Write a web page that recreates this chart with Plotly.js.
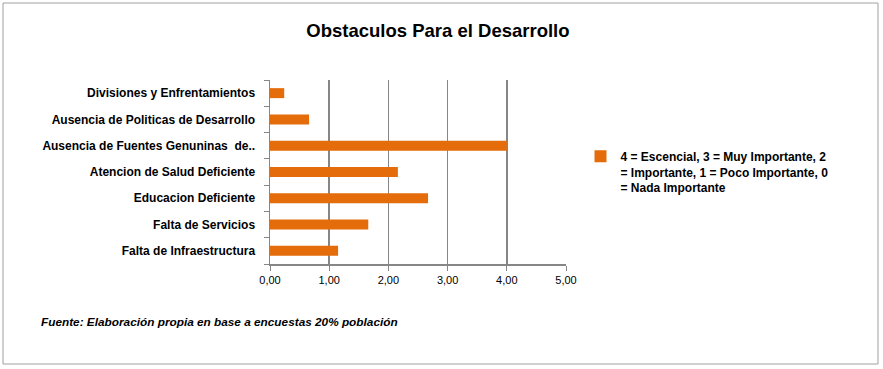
<!DOCTYPE html>
<html><head><meta charset="utf-8">
<script src="https://cdn.plot.ly/plotly-3.0.1.min.js"></script>
<style>body{margin:0;padding:0;background:#fff}#chart{width:883px;height:369px}</style>
</head><body><div id="chart"></div>
<script>
const categories = ["Falta de Infraestructura","Falta de Servicios","Educacion Deficiente","Atencion de Salud Deficiente","Ausencia de Fuentes Genuninas  de..","Ausencia de Politicas de Desarrollo","Divisiones y Enfrentamientos"];
const values = [1.15, 1.66, 2.67, 2.16, 4.00, 0.66, 0.24];
const seriesName = "4 = Escencial, 3 = Muy Importante, 2<br>= Importante, 1 = Poco Importante, 0<br>= Nada Importante";
const xTicks = [0,1,2,3,4,5];

const font = "Liberation Sans, Arial, sans-serif";
const trace = {
  type: "bar", orientation: "h", x: values, y: categories, name: seriesName,
  marker: {color: "#E46C0A"}, width: 0.38, showlegend: true
};
const layout = {
  width: 883, height: 369,
  margin: {l: 270, r: 317, t: 80, b: 105},
  paper_bgcolor: "#fff", plot_bgcolor: "#fff",
  separators: ",.",
  title: {text: "<b>Obstaculos Para el Desarrollo</b>", font: {family: font, size: 18.5, color: "#000"},
          x: 0.496, xref: "container", y: 1 - 31/369, yref: "container", xanchor: "center", yanchor: "middle"},
  xaxis: {range: [0,5], tickvals: xTicks, tickformat: ".2f", showgrid: true, gridcolor: "#868686", gridwidth: 1.5,
          showline: true, linecolor: "#868686", linewidth: 1.5, ticks: "outside", ticklen: 5, tickcolor: "#868686",
          tickfont: {family: font, size: 11, color: "#000"}, zeroline: false, fixedrange: true},
  yaxis: {type: "category", categoryorder: "array", categoryarray: categories, tickson: "boundaries",
          showline: true, linecolor: "#868686", linewidth: 1.5, ticks: "outside", ticklen: 5, tickcolor: "#868686",
          tickfont: {family: font, size: 12, color: "#000", weight: "bold"}, showgrid: false, fixedrange: true, ticklabelstandoff: 11},
  legend: {x: 1.049, xanchor: "left", y: 0.5, yanchor: "middle", valign: "top",
           font: {family: font, size: 12, color: "#000", weight: "bold"},
           itemwidth: 30, tracegroupgap: 0, bgcolor: "rgba(0,0,0,0)"},
  shapes: [{type: "rect", xref: "paper", yref: "paper", x0: (3-270)/296, x1: (878-270)/296, y0: (264-364)/184, y1: (264-3)/184,
            line: {color: "#A0A0A0", width: 1}, fillcolor: "rgba(0,0,0,0)", layer: "below"}],
  annotations: [{text: "<b><i>Fuente: Elaboración propia en base a encuestas 20% población</i></b>", xref: "paper", yref: "paper",
                 x: (39-270)/296, y: (264-322)/184, xanchor: "left", yanchor: "middle", showarrow: false,
                 font: {family: font, size: 11.8, color: "#000"}}]
};
Plotly.newPlot("chart", [trace], layout, {displayModeBar: false, staticPlot: true});
</script></body></html>
